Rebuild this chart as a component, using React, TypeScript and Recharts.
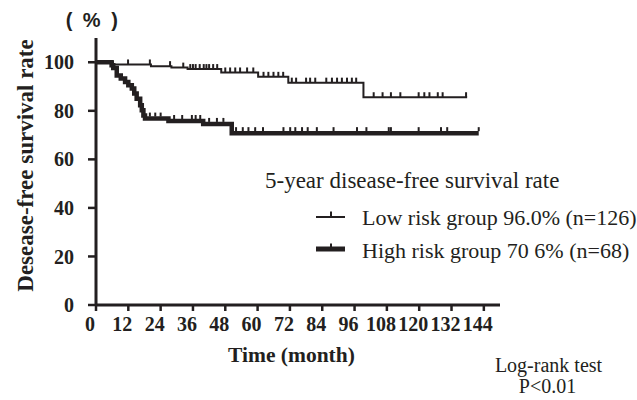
import React from 'react';
import { ComposedChart, Line, Scatter, XAxis, YAxis } from 'recharts';

const xTicks = [0, 12, 24, 36, 48, 60, 72, 84, 96, 108, 120, 132, 144];
const yTicks = [0, 20, 40, 60, 80, 100];

// Kaplan-Meier step points (time in months, survival %)
const lowTimes = [0, 6.3, 20.4, 28, 34, 46.5, 60.2, 71.4, 99.3, 137.8];
const lowSurv = [100, 99.1, 98.4, 97.8, 97.2, 95.8, 94, 91.6, 85.6, 85.6];

const highTimes = [0, 5.8, 6.4, 7.7, 9.2, 10.8, 12, 13.3, 14.2, 15.1, 16.4, 17, 17.6, 18.2, 26.9, 39.8, 50.4, 142.1];
const highSurv = [100, 98.8, 97.6, 94.6, 93.3, 91.9, 90.5, 89.2, 87.1, 85, 82.3, 80.2, 78.1, 76.8, 75.8, 74.6, 70.8, 70.8];

// censoring times
const lowCensor = [11.9, 20, 27.5, 32.4, 35, 36, 37, 38.5, 40, 41, 42, 43.5, 45, 48, 49.8, 51.7, 53.5, 56.1, 58.4, 62.2, 64, 65.9, 67.7, 69.5, 72.7, 74.3, 78, 79.5, 81.4, 85.5, 87.6, 89.5, 91.3, 93.2, 95, 96.6, 103.1, 106.4, 109.5, 113, 119.8, 121.9, 123.8, 126.9, 128.7, 137.4];
const highCensor = [20, 22, 24, 29, 32, 35.6, 37, 38.7, 42, 44.9, 47.3, 52, 54.5, 56.6, 59.1, 62, 69.6, 72.1, 74, 76.5, 78.6, 82, 88.2, 96.9, 100.4, 108.7, 109.5, 119.8, 128.1, 130.4, 142.1];

const INK = '#231f20';
const SERIF = '"Liberation Serif", "Times New Roman", serif';

const toSteps = (times: number[], surv: number[]) => times.map((t, i) => ({ t, s: surv[i] }));
const survAt = (times: number[], surv: number[], t: number) => {
  let v = surv[0];
  for (let i = 0; i < times.length; i++) if (times[i] <= t) v = surv[i];
  return v;
};

const lowData = toSteps(lowTimes, lowSurv);
const highData = toSteps(highTimes, highSurv);
const lowCensorData = lowCensor.map((t) => ({ t, s: survAt(lowTimes, lowSurv, t) }));
const highCensorData = highCensor.map((t) => ({ t, s: survAt(highTimes, highSurv, t) }));

const makeTick = (base: number, h: number) => (props: any) => {
  const { cx, cy } = props;
  if (cx == null || cy == null) return <g />;
  return <line x1={cx} x2={cx} y1={cy - base} y2={cy - base - h} stroke={INK} strokeWidth={2} />;
};

export default function App() {
  return (
    <div style={{ position: 'absolute', left: 0, top: 0, width: 637, height: 400, background: '#fff' }}>
      <ComposedChart width={637} height={400} margin={{ top: 38, right: 137, bottom: 0, left: 0 }}>
        <XAxis
          dataKey="t"
          type="number"
          domain={[0, 150]}
          ticks={xTicks}
          interval={0}
          height={95}
          tickSize={6}
          tickMargin={6}
          axisLine={{ stroke: INK, strokeWidth: 3 }}
          tickLine={{ stroke: INK, strokeWidth: 2.5 }}
          tick={{ fontFamily: SERIF, fontWeight: 'bold', fontSize: 20, fill: INK, dx: -6 }}
          allowDataOverflow
        />
        <YAxis
          type="number"
          domain={[0, 110]}
          ticks={yTicks}
          interval={0}
          width={96}
          tickSize={8}
          tickMargin={14}
          axisLine={{ stroke: INK, strokeWidth: 3 }}
          tickLine={{ stroke: INK, strokeWidth: 2.5 }}
          tick={{ fontFamily: SERIF, fontWeight: 'bold', fontSize: 20, fill: INK }}
          allowDataOverflow
        />
        <Line data={lowData} dataKey="s" type="stepAfter" stroke={INK} strokeWidth={2} dot={false} isAnimationActive={false} />
        <Line data={highData} dataKey="s" type="stepAfter" stroke={INK} strokeWidth={4.5} dot={false} isAnimationActive={false} />
        <Scatter data={lowCensorData} dataKey="s" shape={makeTick(0, 5)} isAnimationActive={false} />
        <Scatter data={highCensorData} dataKey="s" shape={makeTick(2, 4)} isAnimationActive={false} />
      </ComposedChart>
      <svg width={637} height={400} style={{ position: 'absolute', left: 0, top: 0, pointerEvents: 'none' }}>
        <text x={93} y={27} textAnchor="middle" fontFamily='"Liberation Sans", Arial, sans-serif' fontWeight="bold" fontSize={20} letterSpacing={2.5} fill={INK}>( % )</text>
        <text x={33} y={165.5} transform="rotate(-90, 33, 165.5)" textAnchor="middle" fontFamily={SERIF} fontWeight="bold" fontSize={23} fill={INK}>Desease-free survival rate</text>
        <text x={291.5} y={362} textAnchor="middle" fontFamily={SERIF} fontWeight="bold" fontSize={21.5} fill={INK}>Time (month)</text>
        <text x={265} y={188} fontFamily={SERIF} fontSize={23} fill={INK}>5-year disease-free survival rate</text>
        <line x1={316} x2={345} y1={217} y2={217} stroke={INK} strokeWidth={2} />
        <line x1={331} x2={331} y1={217} y2={211.5} stroke={INK} strokeWidth={2} />
        <text x={362} y={225} fontFamily={SERIF} fontSize={22} fill={INK}>Low risk group 96.0% (n=126)</text>
        <line x1={316} x2={345} y1={249} y2={249} stroke={INK} strokeWidth={5} />
        <line x1={331} x2={331} y1={249} y2={243.5} stroke={INK} strokeWidth={2} />
        <text x={362} y={258} fontFamily={SERIF} fontSize={22} fill={INK}>High risk group 70 6% (n=68)</text>
        <text x={548.5} y={372} textAnchor="middle" fontFamily={SERIF} fontSize={20} fill={INK}>Log-rank test</text>
        <text x={547.5} y={393} textAnchor="middle" fontFamily={SERIF} fontSize={20} fill={INK}>P&lt;0.01</text>
      </svg>
    </div>
  );
}
